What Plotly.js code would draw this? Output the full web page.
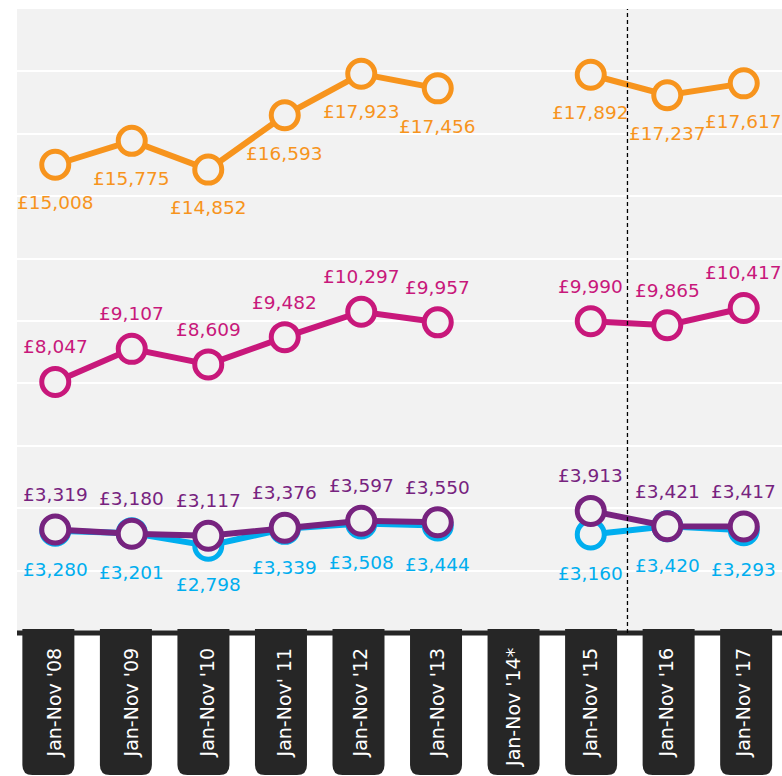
<!DOCTYPE html>
<html>
<head>
<meta charset="utf-8">
<script src="https://cdn.plot.ly/plotly-3.0.1.min.js"></script>
<style>
  html, body { margin: 0; padding: 0; background: #ffffff; }
  #chart { width: 782px; height: 776px; }
</style>
</head>
<body>
<div id="chart"></div>
<script>
// Period labels along the bottom axis
const periods = ["Jan-Nov '08", "Jan-Nov '09", "Jan-Nov '10", "Jan-Nov' 11", "Jan-Nov '12",
                 "Jan-Nov '13", "Jan-Nov '14*", "Jan-Nov '15", "Jan-Nov '16", "Jan-Nov '17"];

// Average values per period (no figures for '14*)
const orangeSeries = [15008, 15775, 14852, 16593, 17923, 17456, null, 17892, 17237, 17617];
const pinkSeries   = [8047, 9107, 8609, 9482, 10297, 9957, null, 9990, 9865, 10417];
const purpleSeries = [3319, 3180, 3117, 3376, 3597, 3550, null, 3913, 3421, 3417];
const blueSeries   = [3280, 3201, 2798, 3339, 3508, 3444, null, 3160, 3420, 3293];

// Break between the two survey periods (between '15 and '16)
const breakPosition = 7.48;

const FONT = "'DejaVu Sans', Verdana, sans-serif";
const BG = '#f2f2f2';
const X_RANGE = [-0.5, 9.5];

const xIdx = periods.map((_, i) => i);

function money(v) {
  return '£' + String(v).replace(/\B(?=(\d{3})+(?!\d))/g, ',');
}

function lineTrace(values, color) {
  return {
    type: 'scatter',
    mode: 'lines+markers',
    x: xIdx,
    y: values,
    connectgaps: false,
    hoverinfo: 'skip',
    line: { color: color, width: 6 },
    marker: { symbol: 'circle', size: 27, color: BG, line: { color: color, width: 5 } },
    cliponaxis: false
  };
}

const series = [
  { values: blueSeries,   color: '#00aeef', shift: -39 },
  { values: purpleSeries, color: '#77237f', shift: 35 },
  { values: pinkSeries,   color: '#c8187b', shift: 35 },
  { values: orangeSeries, color: '#f7941d', shift: -38 }
];

const traces = series.map(s => lineTrace(s.values, s.color));

// Value labels above / below each point
const annotations = [];
series.forEach(s => {
  s.values.forEach((v, i) => {
    if (v === null) return;
    annotations.push({
      x: i, y: v, xref: 'x', yref: 'y',
      text: money(v), showarrow: false,
      yshift: s.shift,
      font: { family: FONT, size: 18.5, color: s.color }
    });
  });
});

// Dark rounded tabs behind the period labels (paper-anchored so they are not clipped)
const toPaper = x => (x - X_RANGE[0]) / (X_RANGE[1] - X_RANGE[0]);
const tabPath = 'M -26,4 L 26,4 L 26,-132 Q 26,-142 16,-142 L -16,-142 Q -26,-142 -26,-132 Z';
const shapes = periods.map((_, i) => ({
  type: 'path',
  xref: 'paper', yref: 'paper',
  xsizemode: 'pixel', ysizemode: 'pixel',
  xanchor: toPaper(-0.09 + i * 1.0135), yanchor: 0,
  path: tabPath,
  fillcolor: '#262626',
  line: { width: 0 },
  layer: 'below'
}));

// Heavy baseline
shapes.push({
  type: 'line', xref: 'paper', yref: 'paper',
  x0: 0, x1: 1, y0: 0, y1: 0,
  line: { color: '#262626', width: 5 }
});

// Dashed break marker
shapes.push({
  type: 'line', xref: 'x', yref: 'paper',
  x0: breakPosition, x1: breakPosition, y0: 0, y1: 1,
  line: { color: '#000000', width: 1.3, dash: '4px,3px' }
});

const layout = {
  width: 782,
  height: 776,
  margin: { l: 17, r: 0, t: 9, b: 143, pad: 0 },
  paper_bgcolor: '#ffffff',
  plot_bgcolor: BG,
  showlegend: false,
  font: { family: FONT },
  xaxis: {
    range: X_RANGE,
    tickmode: 'array',
    tickvals: xIdx,
    ticktext: periods,
    tickangle: -90,
    ticklabelstandoff: 10,
    tickfont: { family: FONT, size: 19, color: '#ffffff' },
    showgrid: false,
    zeroline: false,
    showline: false,
    ticks: '',
    fixedrange: true
  },
  yaxis: {
    range: [0, 20000],
    dtick: 2000,
    showticklabels: false,
    gridcolor: '#ffffff',
    gridwidth: 2,
    zeroline: false,
    showline: false,
    ticks: '',
    fixedrange: true
  },
  shapes: shapes,
  annotations: annotations
};

Plotly.newPlot('chart', traces, layout, { displayModeBar: false, staticPlot: true });
</script>
</body>
</html>
